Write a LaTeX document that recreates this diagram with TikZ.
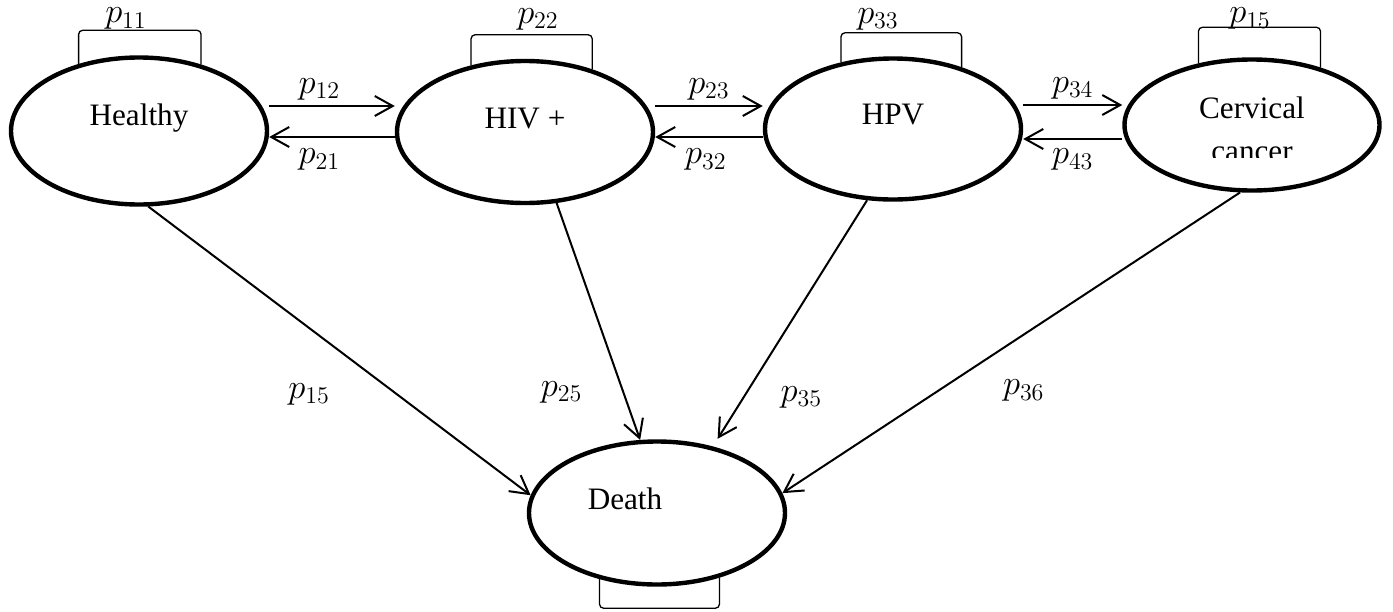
\documentclass[tikz,border=0pt]{standalone}
\usepackage{fontspec}
\setmainfont{Liberation Serif}
\usetikzlibrary{shapes.geometric,arrows.meta}

\begin{document}
\begin{tikzpicture}[x=0.5pt,y=-0.5pt]
 \tikzset{state/.style={draw,ellipse,line width=2.2pt,minimum width=128pt,inner sep=0pt},
  statetext/.style={font=\fontsize{15.6}{21.5}\selectfont},
  arrow/.style={line width=1pt,-{Straight Barb[length=9pt,width=10pt]}},
  selfloop/.style={line width=0.65pt,rounded corners=2pt},
  prob/.style={inner sep=0pt,font=\fontsize{17.28}{20}\selectfont}}
 \useasboundingbox (0,0) rectangle (1393,611);

 \node[state,minimum height=73.5pt,label={[statetext,yshift=6.5pt]center:Healthy}] (H) at (139,131) {};
 \node[state,minimum height=71pt,label={[statetext,yshift=6.75pt]center:HIV +}] (V) at (525,132) {};
 \node[state,minimum height=70.5pt,label={[statetext,yshift=7pt]center:HPV}] (P) at (893,129) {};
 \node[state,minimum width=127.5pt,minimum height=65.5pt] (C) at (1252,125) {};
 \node[state,minimum height=71.5pt,label={[statetext,xshift=-16pt,yshift=7pt]center:Death}] (D) at (657,513) {};
 \begin{scope}
  \clip (1120,60) rectangle (1385,157);
  \node[statetext,align=center] (Ct) at ([yshift=-2.25pt]C) {Cervical\\cancer};
 \end{scope}

 \draw[arrow] ([yshift=12.5pt]H.east) -- node[prob,above=2.5pt,pos=0.4] {$p_{12}$} ([yshift=13pt]V.west);
 \draw[arrow] ([yshift=-2.5pt]V.west) -- node[prob,below=5.5pt,pos=0.6] {$p_{21}$} ([yshift=-3pt]H.east);
 \draw[arrow] ([yshift=13pt]V.east) -- node[prob,above=2.5pt] {$p_{23}$} ([yshift=11.5pt]P.west);
 \draw[arrow] ([yshift=-4pt]P.west) -- node[prob,below=5.5pt,pos=0.53] {$p_{32}$} ([yshift=-2.5pt]V.east);
 \draw[arrow] ([yshift=12pt]P.east) -- node[prob,above=2.5pt] {$p_{34}$} ([yshift=10pt]C.west);
 \draw[arrow] ([yshift=-7pt]C.west) -- node[prob,below=4.5pt] {$p_{43}$} ([yshift=-5pt]P.east);

 \draw[arrow] (H.277) -- node[prob,pos=0.65,left=33pt] {$p_{15}$} (D.172);
 \draw[arrow] (V.294) -- node[prob,pos=0.8,left=20pt] {$p_{25}$} (D.103);
 \draw[arrow,shorten >=4.5pt] (P.250) -- node[prob,pos=0.8,right=18pt] {$p_{35}$} (D.50);
 \draw[arrow] (C.260) -- node[prob,pos=0.66,right=32pt] {$p_{36}$} (D.9);

 \draw[selfloop] (H.132.1) |- ([yshift=12.5pt]H.north) node[prob,above=0pt,xshift=-6.5pt] {$p_{11}$} -| (H.47.9);
 \draw[selfloop] (V.129.4) |- ([yshift=12pt]V.north) node[prob,above=2pt,xshift=6.5pt] {$p_{22}$} -| (V.43.9);
 \draw[selfloop] (P.128.3) |- ([yshift=11.75pt]P.north) node[prob,above=1pt,xshift=-7.5pt] {$p_{33}$} -| (P.42.5);
 \draw[selfloop] (C.131) |- ([yshift=15pt]C.north) node[prob,above=-1.5pt,xshift=-1pt] {$p_{15}$} -| (C.40.9);
 \draw[selfloop] (D.229.6) |- ([yshift=-10.75pt]D.south) -| (D.314.7);
\end{tikzpicture}
\end{document}
